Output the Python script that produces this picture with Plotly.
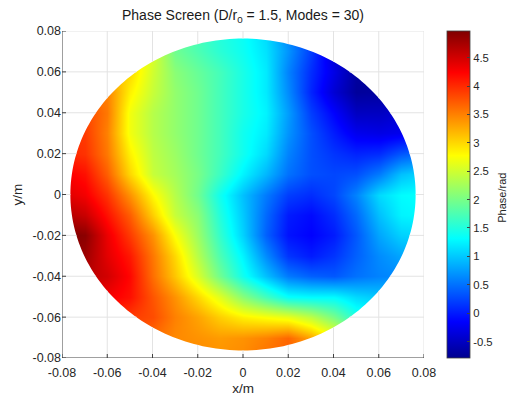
import numpy as np
import plotly.graph_objects as go

# ---- data ----
grid_x = [-0.08, -0.07, -0.06, -0.05, -0.04, -0.03, -0.02, -0.01, 0.0,
          0.01, 0.02, 0.03, 0.04, 0.05, 0.06, 0.07, 0.08]
grid_y = [-0.08, -0.07, -0.06, -0.05, -0.04, -0.03, -0.02, -0.01, 0.0,
          0.01, 0.02, 0.03, 0.04, 0.05, 0.06, 0.07, 0.08]
# phase (rad) at grid points, one list per grid_y row (bottom to top), values along grid_x
phase_y_m08 = [4.0, 4.0, 3.9, 3.8, 3.6, 3.5, 3.45, 3.4, 3.45, 3.6, 3.7, 3.4, 3.0, 2.4, 2.0, 1.8, 1.6]
phase_y_m07 = [4.0, 4.0, 3.9, 3.8, 3.6, 3.45, 3.4, 3.35, 3.4, 3.5, 3.65, 3.3, 2.8, 2.2, 1.8, 1.6, 1.5]
phase_y_m06 = [4.2, 4.1, 4.0, 3.9, 3.8, 3.5, 3.3, 3.05, 2.85, 2.75, 2.65, 2.4, 2.0, 1.5, 1.4, 1.3, 1.3]
phase_y_m05 = [4.5, 4.4, 4.3, 4.15, 3.75, 3.4, 3.0, 2.6, 2.1, 1.7, 1.35, 1.3, 1.3, 1.1, 1.0, 1.0, 1.0]
phase_y_m04 = [4.7, 4.65, 4.5, 4.2, 3.6, 3.1, 2.55, 1.95, 1.4, 0.95, 0.55, 0.4, 0.35, 0.5, 0.6, 0.65, 0.7]
phase_y_m03 = [4.9, 4.8, 4.4, 4.1, 3.55, 3.0, 2.35, 1.75, 1.25, 0.65, 0.15, 0.0, 0.15, 0.4, 0.65, 0.8, 0.85]
phase_y_m02 = [5.0, 4.9, 4.35, 3.9, 3.4, 2.75, 2.2, 1.6, 1.05, 0.4, -0.05, -0.15, 0.0, 0.35, 0.8, 1.05, 1.1]
phase_y_m01 = [4.7, 4.55, 4.15, 3.7, 3.05, 2.45, 2.1, 1.5, 1.0, 0.45, 0.0, -0.1, 0.1, 0.45, 0.95, 1.25, 1.3]
phase_y_000 = [4.45, 4.3, 3.95, 3.4, 2.8, 2.35, 1.95, 1.4, 0.95, 0.55, 0.2, 0.1, 0.25, 0.6, 1.1, 1.3, 1.35]
phase_y_p01 = [4.3, 4.15, 3.7, 3.0, 2.45, 2.25, 2.0, 1.65, 1.25, 0.9, 0.5, 0.3, 0.25, 0.3, 0.55, 0.95, 1.1]
phase_y_p02 = [4.05, 3.95, 3.55, 2.85, 2.4, 2.2, 1.95, 1.7, 1.4, 1.1, 0.6, 0.3, 0.15, 0.05, 0.1, 0.35, 0.5]
phase_y_p03 = [4.0, 3.9, 3.5, 2.7, 2.35, 2.15, 1.95, 1.7, 1.4, 1.2, 0.7, 0.3, 0.0, -0.25, -0.3, -0.25, -0.2]
phase_y_p04 = [4.0, 3.85, 3.55, 2.7, 2.35, 2.15, 1.95, 1.7, 1.45, 1.25, 0.75, 0.2, -0.15, -0.5, -0.5, -0.4, -0.4]
phase_y_p05 = [3.7, 3.6, 3.5, 2.85, 2.45, 2.15, 1.95, 1.7, 1.45, 1.2, 0.65, 0.05, -0.4, -0.72, -0.7, -0.65, -0.65]
phase_y_p06 = [3.4, 3.3, 3.2, 3.0, 2.5, 2.1, 1.9, 1.7, 1.45, 1.2, 0.6, 0.1, -0.3, -0.7, -0.78, -0.8, -0.8]
phase_y_p07 = [3.3, 3.3, 3.2, 3.0, 2.55, 1.95, 1.75, 1.55, 1.38, 1.15, 0.7, 0.2, -0.4, -0.7, -0.8, -0.8, -0.8]
phase_y_p08 = [3.2, 3.2, 3.1, 3.0, 2.6, 1.9, 1.7, 1.5, 1.35, 1.1, 0.6, 0.1, -0.4, -0.7, -0.8, -0.8, -0.8]
phase = [phase_y_m08, phase_y_m07, phase_y_m06, phase_y_m05, phase_y_m04, phase_y_m03,
         phase_y_m02, phase_y_m01, phase_y_000, phase_y_p01, phase_y_p02, phase_y_p03,
         phase_y_p04, phase_y_p05, phase_y_p06, phase_y_p07, phase_y_p08]

aperture_radius = 0.0763
c_min, c_max = -0.79, 4.97

axis_ticks = [-0.08, -0.06, -0.04, -0.02, 0, 0.02, 0.04, 0.06, 0.08]
axis_ticktext = ['-0.08', '-0.06', '-0.04', '-0.02', '0', '0.02', '0.04', '0.06', '0.08']
cb_ticks = [-0.5, 0, 0.5, 1, 1.5, 2, 2.5, 3, 3.5, 4, 4.5]
cb_ticktext = ['-0.5', '0', '0.5', '1', '1.5', '2', '2.5', '3', '3.5', '4', '4.5']

jet = [[0.0, 'rgb(0,0,143)'], [0.111, 'rgb(0,0,255)'], [0.365, 'rgb(0,255,255)'],
       [0.619, 'rgb(255,255,0)'], [0.873, 'rgb(255,0,0)'], [1.0, 'rgb(128,0,0)']]

FONT = 'Liberation Sans, Arial, sans-serif'
TXT = '#262626'
AX = '#404040'
GRIDC = '#e3e3e3'

fig = go.Figure()
fig.add_trace(go.Heatmap(
    x=grid_x, y=grid_y, z=phase, zsmooth='best', colorscale=jet,
    zmin=c_min, zmax=c_max, hoverinfo='skip',
    colorbar=dict(
        x=1.0635, xanchor='left', xref='paper', y=0.5, yanchor='middle', len=1.0,
        lenmode='fraction', thickness=23, thicknessmode='pixels', xpad=0, ypad=0,
        outlinecolor=AX, outlinewidth=0.8,
        tickvals=cb_ticks, ticktext=cb_ticktext, ticks='inside', ticklen=3,
        tickcolor=AX, tickfont=dict(family=FONT, size=11.3, color=TXT),
    ),
))

lo, hi = -0.08, 0.08
R = aperture_radius
th = np.linspace(0, 2 * np.pi, 241)
circ = ' '.join(('M' if i == 0 else 'L') + f'{R*np.cos(t):.6f},{R*np.sin(t):.6f}' for i, t in enumerate(th)) + ' Z'
mask = f'M{lo},{lo} L{hi},{lo} L{hi},{hi} L{lo},{hi} Z ' + circ
shapes = [dict(type='path', path=mask, xref='x', yref='y', fillcolor='white',
               line=dict(width=0), fillrule='evenodd', layer='above')]


def seg(x0, y0, x1, y1, color=GRIDC, w=1):
    return dict(type='line', xref='x', yref='y', x0=x0, y0=y0, x1=x1, y1=y1,
                line=dict(color=color, width=w), layer='above')


# grid line segments outside the aperture
for g in axis_ticks[1:]:
    if abs(g) < R:
        h = float(np.sqrt(R * R - g * g))
        shapes.append(seg(g, lo, g, -h))
        shapes.append(seg(g, h, g, hi))
        shapes.append(seg(lo, g, -h, g))
        shapes.append(seg(h, g, hi, g))
    else:
        shapes.append(seg(g, lo, g, hi))
        shapes.append(seg(lo, g, hi, g))

# axis lines and inward ticks
shapes.append(seg(lo, lo, hi, lo, AX, 1))
shapes.append(seg(lo, lo, lo, hi, AX, 1))
for g in axis_ticks:
    shapes.append(dict(type='line', xref='x', yref='y', ysizemode='pixel', yanchor=lo,
                       x0=g, x1=g, y0=0, y1=4, line=dict(color=AX, width=1), layer='above'))
    shapes.append(dict(type='line', xref='x', yref='y', xsizemode='pixel', xanchor=lo,
                       y0=g, y1=g, x0=0, x1=4, line=dict(color=AX, width=1), layer='above'))

fig.update_layout(
    width=509, height=397,
    margin=dict(l=62, r=85, t=31, b=39, autoexpand=False),
    paper_bgcolor='white', plot_bgcolor='white',
    font=dict(family=FONT, size=12.5, color=TXT),
    title=dict(text='Phase Screen (D/r<sub>0</sub> = 1.5, Modes = 30)',
               x=0.5, xref='paper', xanchor='center',
               y=1 - 15 / 397, yref='container', yanchor='middle',
               font=dict(family=FONT, size=14, color='#1a1a1a')),
    xaxis=dict(range=[lo, hi], tickvals=axis_ticks, ticktext=axis_ticktext,
               showgrid=False, zeroline=False, showline=False, ticks='',
               ticklabelstandoff=5,
               tickfont=dict(family=FONT, size=12.5, color=TXT),
               title=dict(text='x/m', standoff=5, font=dict(family=FONT, size=13.5, color=TXT))),
    yaxis=dict(range=[lo, hi], tickvals=axis_ticks, ticktext=axis_ticktext,
               showgrid=False, zeroline=False, showline=False, ticks='',
               tickfont=dict(family=FONT, size=12.5, color=TXT),
               title=dict(text='y/m', standoff=6, font=dict(family=FONT, size=13.5, color=TXT))),
    shapes=shapes,
    annotations=[dict(text='Phase/rad', xref='paper', yref='paper', x=(502 - 62) / 362, y=0.49,
                      xanchor='center', yanchor='middle', textangle=-90, showarrow=False,
                      font=dict(family=FONT, size=11, color=TXT))],
)

fig.write_html('out.html', config={'displayModeBar': False},
               post_script="document.body.style.margin='0';document.body.style.padding='0';")
